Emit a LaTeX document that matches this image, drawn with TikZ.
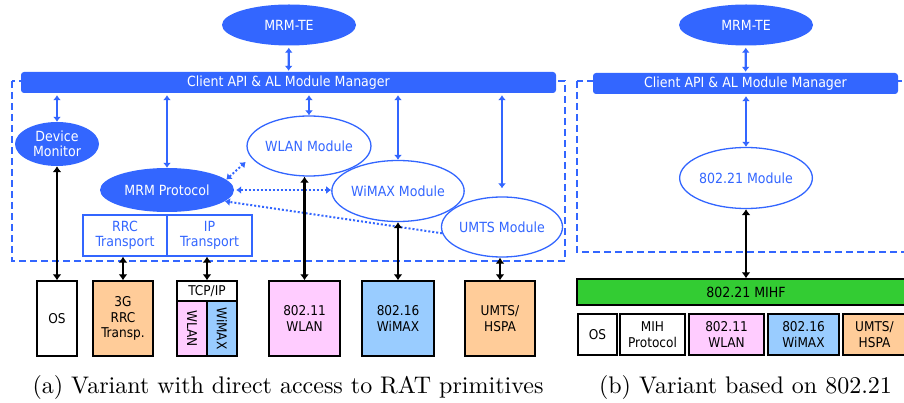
\documentclass[tikz,border=0pt]{standalone}
\usepackage{fontspec}
\newfontfamily\diafont{DejaVu Sans Condensed}
\usetikzlibrary{shapes.geometric,arrows.meta}
\definecolor{mrmblue}{RGB}{51,102,255}
\definecolor{ratpink}{RGB}{255,204,255}
\definecolor{ratblue}{RGB}{153,204,255}
\definecolor{ratorange}{RGB}{255,204,153}
\definecolor{mihgreen}{RGB}{51,204,51}
\begin{document}
\begin{tikzpicture}[x=1pt,y=-1pt,
  lbl/.style={font=\diafont\fontsize{14}{15.5}\selectfont, align=center, inner sep=0pt},
  solidell/.style={lbl, ellipse, fill=mrmblue, text=white},
  modell/.style={lbl, ellipse, draw=mrmblue, line width=1.3pt, fill=white, text=mrmblue},
  apibar/.style={lbl, rectangle, rounded corners=3pt, fill=mrmblue, text=white},
  transbox/.style={lbl, rectangle, draw=mrmblue, line width=1.3pt, text=mrmblue},
  ratbox/.style={font=\diafont\fontsize{13.5}{15.5}\selectfont, align=center, inner sep=0pt, rectangle, draw=black, line width=1.4pt},
  frame/.style={draw=mrmblue, line width=1.8pt, dash pattern=on 7pt off 4pt},
  blink/.style={draw=mrmblue, line width=2.3pt, {Latex[length=5pt,width=8pt]}-{Latex[length=5pt,width=8pt]}},
  klink/.style={draw=black, line width=2.8pt, {Latex[length=6pt,width=9pt]}-{Latex[length=6pt,width=9pt]}},
  dlink/.style={draw=mrmblue, line width=2pt, dash pattern=on 2pt off 2pt},
  tip/.style={-{Latex[length=5pt,width=8pt]}},
  bothtips/.style={{Latex[length=5pt,width=8pt]}-{Latex[length=5pt,width=8pt]}},
  caption/.style={anchor=base, scale=2.4, inner sep=0pt, font=\fontsize{10}{12}\selectfont},
]
\useasboundingbox (0,0) rectangle (904,403);
\clip (0,0) rectangle (904,403);

% ---------------- (a) direct access to RAT primitives ----------------
\draw[frame] (12,81) rectangle (565,261);
\node[solidell, minimum width=134, minimum height=41] (teA) at (289,25) {MRM-TE};
\node[apibar, minimum width=535, minimum height=21] (apiA) at (288.5,82.5) {Client API \& AL Module Manager};

\node[solidell, minimum width=84, minimum height=44] (devmon) at (57,144) {Device\\Monitor};
\node[solidell, minimum width=134, minimum height=44] (mrm) at (167,190) {MRM Protocol};
\node[transbox, minimum width=84, minimum height=41] (rrc) at (125,235.5) {RRC\\Transport};
\node[transbox, minimum width=85, minimum height=41] (iptr) at (209.5,235.5) {IP\\Transport};

\node[modell, minimum width=114, minimum height=60] (wlanmod) at (309,146) {WLAN Module};
\node[modell, minimum width=115, minimum height=61] (wimaxmod) at (398,191) {WiMAX Module};
\node[modell, minimum width=116, minimum height=60] (umtsmod) at (502,227) {UMTS Module};

% radio access technologies
\node[ratbox, minimum width=40, minimum height=75] (os) at (57,318.5) {OS};
\node[ratbox, fill=ratorange, minimum width=60, minimum height=75] (rrc3g) at (123,318.5) {3G\\RRC\\Transp.};
\node[ratbox, minimum width=60, minimum height=20] (tcpip) at (207,291) {TCP/IP};
\node[ratbox, fill=ratpink, rotate=-90, minimum width=55, minimum height=30] (ipwlan) at (192,328.5) {WLAN};
\node[ratbox, fill=ratblue, rotate=-90, minimum width=55, minimum height=30] (ipwimax) at (222,328.5) {WiMAX};
\node[ratbox, fill=ratpink, minimum width=71, minimum height=75] (wlanA) at (304.5,318.5) {802.11\\WLAN};
\node[ratbox, fill=ratblue, minimum width=72, minimum height=75] (wimaxA) at (398,318.5) {802.16\\WiMAX};
\node[ratbox, fill=ratorange, minimum width=70, minimum height=75] (umtsA) at (500,318.5) {UMTS/\\HSPA};

% manager links
\draw[blink, shorten <=2pt, shorten >=1pt] (teA) -- (apiA);
\draw[blink, shorten <=2pt] (devmon.north |- apiA.south) -- (devmon.north);
\draw[blink, shorten <=2pt] (mrm.north |- apiA.south) -- (mrm.north);
\draw[blink, shorten <=2pt] (wlanmod.north |- apiA.south) -- (wlanmod.north);
\draw[blink, shorten <=2pt] (wimaxmod.north |- apiA.south) -- (wimaxmod.north);
\draw[blink, shorten <=2pt, shorten >=8pt] (umtsmod.north |- apiA.south) -- (umtsmod.north);

% protocol links between modules
\draw[dlink, bothtips, shorten >=7pt] (mrm.10) -- (wlanmod.191);
\draw[dlink, bothtips, shorten <=2pt] (mrm.east) -- (mrm.east -| wimaxmod.west);
\draw[dlink, tip] (umtsmod.186) -- (mrm.-11);

% links to the radio access technologies
\draw[klink] (os.north) -- (devmon.south);
\draw[klink] (rrc3g.north) -- (rrc3g.north |- rrc.south);
\draw[klink] (tcpip.north) -- (tcpip.north |- iptr.south);
\draw[klink] (wlanA.north) -- (wlanA.north |- wlanmod.south);
\draw[klink] (wimaxA.north) -- (wimaxmod.south);
\draw[klink] (umtsA.north) -- (umtsA.north |- umtsmod.south);

\node[caption] (capA) at (288,393) {(a) Variant with direct access to RAT primitives};

% ---------------- (b) based on 802.21 ----------------
\draw[frame] (577,81) rectangle (915,252);
\node[solidell, minimum width=134, minimum height=41] (teB) at (746,25) {MRM-TE};
\node[apibar, minimum width=305, minimum height=21] (apiB) at (745.5,83.5) {Client API \& AL Module Manager};
\node[modell, minimum width=116, minimum height=61] (mod21) at (746,178) {802.21 Module};

\node[ratbox, fill=mihgreen, font=\diafont\fontsize{14}{15.5}\selectfont, minimum width=338, minimum height=26] (mihf) at (746,292) {802.21 MIHF};
\node[ratbox, minimum width=39, minimum height=41] (osB) at (597.5,334.5) {OS};
\node[ratbox, minimum width=65, minimum height=41] (mihp) at (652.5,334.5) {MIH\\Protocol};
\node[ratbox, fill=ratpink, minimum width=75, minimum height=41] (wlanB) at (726.5,334.5) {802.11\\WLAN};
\node[ratbox, fill=ratblue, minimum width=71, minimum height=41] (wimaxB) at (803.5,334.5) {802.16\\WiMAX};
\node[ratbox, fill=ratorange, minimum width=63, minimum height=41] (umtsB) at (874.5,334.5) {UMTS/\\HSPA};

\draw[blink, shorten <=2pt, shorten >=1pt] (teB) -- (apiB);
\draw[blink, shorten <=2pt] (mod21.north |- apiB.south) -- (mod21.north);
\draw[klink] (mihf.north) -- (mod21.south);

\node[caption] (capB) at (745.5,393) {(b) Variant based on 802.21};
\end{tikzpicture}
\end{document}
